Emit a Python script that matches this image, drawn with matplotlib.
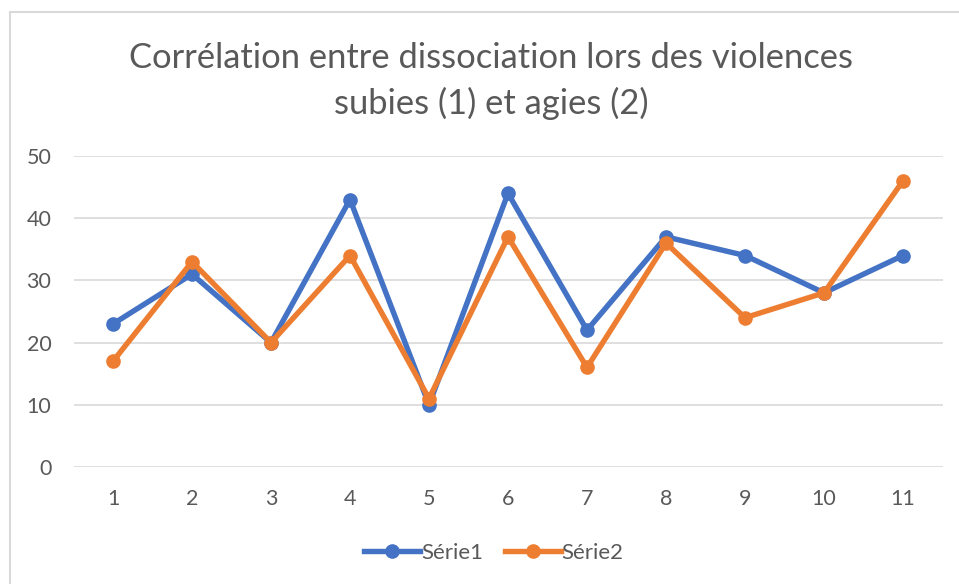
import matplotlib.pyplot as plt
from matplotlib.lines import Line2D

# --- data ---------------------------------------------------------------
categories = ['1', '2', '3', '4', '5', '6', '7', '8', '9', '10', '11']
serie1 = [23, 31, 20, 43, 10, 44, 22, 37, 34, 28, 34]
serie2 = [17, 33, 20, 34, 11, 37, 16, 36, 24, 28, 46]
yticks = [0, 10, 20, 30, 40, 50]

title = 'Corrélation entre dissociation lors des violences\nsubies (1) et agies (2)'

blue = '#4472C4'
orange = '#ED7D31'
text_gray = '#595959'
grid_gray = '#D9D9D9'

plt.rcParams['font.family'] = ['Lato', 'DejaVu Sans']

W, H = 959, 584
fig = plt.figure(figsize=(W / 100, H / 100), dpi=100)

# plot area in pixel coords
left, right, top, bottom = 73.5, 942.5, 156, 467
ax = fig.add_axes([left / W, 1 - bottom / H, (right - left) / W, (bottom - top) / H])

x = range(len(categories))
ax.plot(x, serie1, color=blue, lw=3.9, marker='o', ms=9.5, label='Série1',
        solid_joinstyle='round', zorder=3)
ax.plot(x, serie2, color=orange, lw=3.9, marker='o', ms=9.5, label='Série2',
        solid_joinstyle='round', zorder=4)

ax.set_xlim(-0.5, len(categories) - 0.5)
ax.set_ylim(0, 50)
ax.set_xticks(list(x))
ax.set_xticklabels(categories)
ax.set_yticks(yticks)
ax.tick_params(length=0, labelsize=15.5, labelcolor=text_gray)
ax.tick_params(axis='x', pad=16)
ax.tick_params(axis='y', pad=16)
ax.grid(axis='y', color=grid_gray, lw=1.2)
ax.set_axisbelow(True)
for s in ax.spines.values():
    s.set_visible(False)

fig.text(491 / W, 1 - 81 / H, title, ha='center', va='center',
         fontsize=24.8, color=text_gray, linespacing=1.45)

# legend at the bottom
handles = [Line2D([], [], color=blue, lw=3.9, marker='o', ms=9.5),
           Line2D([], [], color=orange, lw=3.9, marker='o', ms=9.5)]
fig.legend(handles, ['Série1', 'Série2'], loc='center', bbox_to_anchor=(494 / W, 1 - 553 / H),
           ncol=2, frameon=False, fontsize=16, labelcolor=text_gray,
           handlelength=2.5, handletextpad=0.05, columnspacing=1.0)

# chart frame: only top and left edges visible in the crop
fig.add_artist(Line2D([9.5 / W, 9.5 / W], [0, 1 - 12 / H], color=grid_gray, lw=1.5))
fig.add_artist(Line2D([9.5 / W, 1], [1 - 12 / H, 1 - 12 / H], color=grid_gray, lw=1.5))

fig.savefig('out.png', dpi=100)
